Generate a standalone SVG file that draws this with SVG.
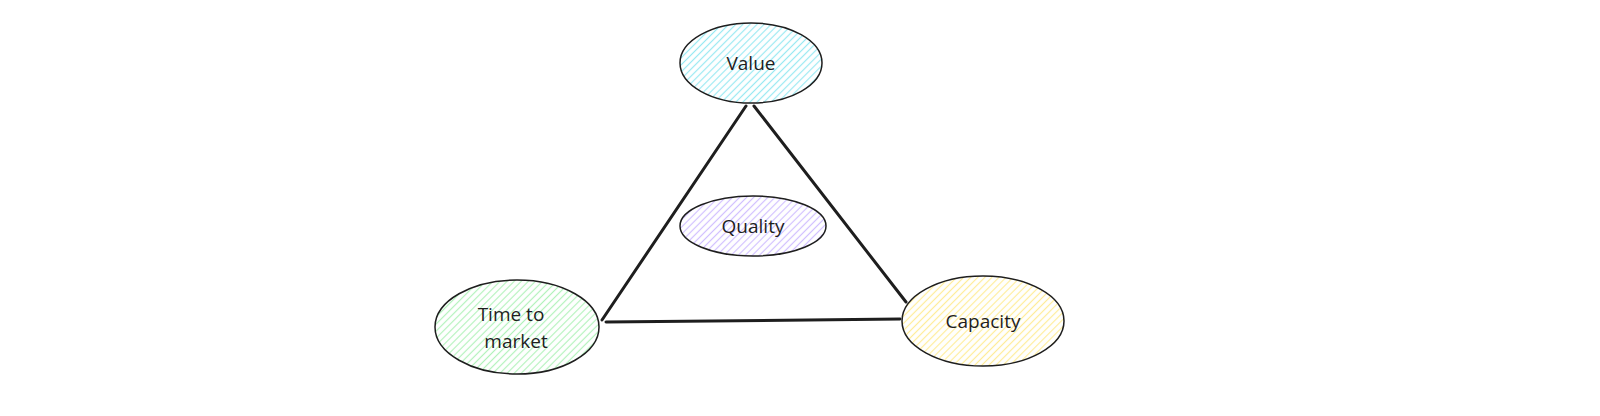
<svg xmlns="http://www.w3.org/2000/svg" width="1600" height="416" viewBox="0 0 1600 416">
<defs>
<pattern id="hCyan" width="5" height="5" patternUnits="userSpaceOnUse" patternTransform="rotate(-45)"><line x1="0" y1="2.5" x2="5" y2="2.5" stroke="#99e9f2" stroke-width="1.2"/></pattern>
<pattern id="hPurple" width="5" height="5" patternUnits="userSpaceOnUse" patternTransform="rotate(-45)"><line x1="0" y1="2.5" x2="5" y2="2.5" stroke="#d0bfff" stroke-width="1.2"/></pattern>
<pattern id="hGreen" width="5" height="5" patternUnits="userSpaceOnUse" patternTransform="rotate(-45)"><line x1="0" y1="2.5" x2="5" y2="2.5" stroke="#b2f2bb" stroke-width="1.2"/></pattern>
<pattern id="hYellow" width="5" height="5" patternUnits="userSpaceOnUse" patternTransform="rotate(-45)"><line x1="0" y1="2.5" x2="5" y2="2.5" stroke="#ffec99" stroke-width="1.2"/></pattern>
</defs>
<style>
.node ellipse{stroke:#1e1e1e;stroke-width:1.5}
.lbl{font-family:"Open Sans","Liberation Sans",sans-serif;font-size:19px;fill:#1e1e1e;text-anchor:middle}
.conn line{stroke:#1e1e1e;stroke-width:3;stroke-linecap:round}
</style>
<rect width="1600" height="416" fill="#ffffff"/>
<g id="connectors" class="conn">
<line x1="746" y1="106" x2="602" y2="320"/>
<line x1="754" y1="106" x2="906" y2="302"/>
<line x1="606" y1="322" x2="900" y2="319"/>
</g>
<g id="node-value" class="node">
<ellipse cx="751" cy="63" rx="71" ry="40" fill="url(#hCyan)"/>
<text class="lbl" x="751" y="70">Value</text>
</g>
<g id="node-quality" class="node">
<ellipse cx="753" cy="226" rx="73" ry="30" fill="url(#hPurple)"/>
<text class="lbl" x="753" y="233">Quality</text>
</g>
<g id="node-time" class="node">
<ellipse cx="517" cy="327" rx="82" ry="47" fill="url(#hGreen)"/>
<text class="lbl" x="511" y="321">Time to</text>
<text class="lbl" x="516" y="348">market</text>
</g>
<g id="node-capacity" class="node">
<ellipse cx="983" cy="321" rx="81" ry="45" fill="url(#hYellow)"/>
<text class="lbl" x="983" y="328">Capacity</text>
</g>
</svg>
